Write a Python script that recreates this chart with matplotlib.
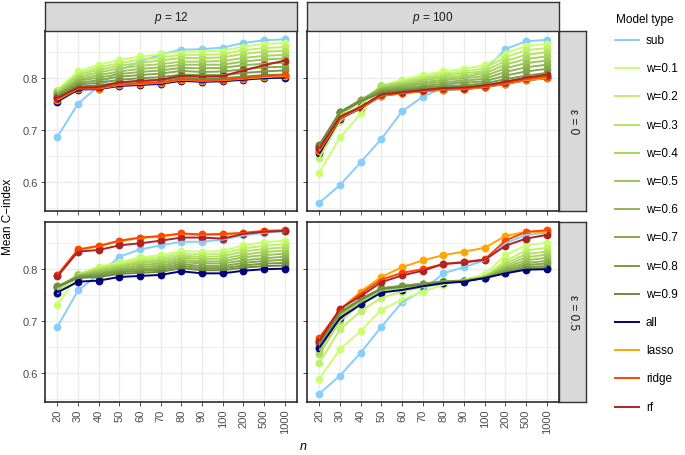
import matplotlib
matplotlib.use("Agg")
import matplotlib.pyplot as plt
from matplotlib.lines import Line2D

plt.rcParams['font.family'] = ['Liberation Sans', 'DejaVu Sans']
plt.rcParams['mathtext.fontset'] = 'custom'
plt.rcParams['mathtext.rm'] = 'Liberation Sans'
plt.rcParams['mathtext.it'] = 'Liberation Sans:italic'

# ---------------- data ----------------
n_labels = ["20", "30", "40", "50", "60", "70", "80", "90", "100", "200", "500", "1000"]
models = ["sub", "w=0.1", "w=0.2", "w=0.3", "w=0.4", "w=0.5", "w=0.6", "w=0.7",
          "w=0.8", "w=0.9", "all", "lasso", "ridge", "rf"]
p_labels = ["12", "100"]
eps_labels = ["0", "0.5"]

# p = 12, eps = 0
p12_e0 = {
    "sub":   [0.687, 0.751, 0.785, 0.815, 0.832, 0.846, 0.855, 0.856, 0.859, 0.868, 0.873, 0.875],
    "w=0.1": [0.778, 0.813, 0.826, 0.835, 0.842, 0.846, 0.851, 0.852, 0.853, 0.861, 0.866, 0.868],
    "w=0.2": [0.776, 0.809, 0.821, 0.829, 0.836, 0.840, 0.845, 0.845, 0.846, 0.854, 0.858, 0.860],
    "w=0.3": [0.775, 0.806, 0.816, 0.824, 0.830, 0.834, 0.839, 0.839, 0.840, 0.847, 0.851, 0.853],
    "w=0.4": [0.773, 0.802, 0.811, 0.819, 0.824, 0.827, 0.832, 0.832, 0.833, 0.839, 0.843, 0.845],
    "w=0.5": [0.771, 0.798, 0.806, 0.813, 0.818, 0.821, 0.826, 0.826, 0.826, 0.832, 0.836, 0.838],
    "w=0.6": [0.769, 0.795, 0.801, 0.808, 0.812, 0.815, 0.820, 0.819, 0.820, 0.825, 0.828, 0.830],
    "w=0.7": [0.768, 0.791, 0.796, 0.803, 0.806, 0.809, 0.814, 0.812, 0.813, 0.817, 0.821, 0.822],
    "w=0.8": [0.766, 0.788, 0.791, 0.797, 0.800, 0.802, 0.807, 0.806, 0.806, 0.810, 0.813, 0.815],
    "w=0.9": [0.764, 0.784, 0.786, 0.792, 0.794, 0.796, 0.801, 0.799, 0.800, 0.803, 0.806, 0.807],
    "all":   [0.755, 0.778, 0.779, 0.785, 0.787, 0.789, 0.795, 0.793, 0.794, 0.797, 0.800, 0.801],
    "lasso": [0.758, 0.780, 0.780, 0.787, 0.789, 0.791, 0.797, 0.795, 0.796, 0.799, 0.802, 0.804],
    "ridge": [0.760, 0.781, 0.781, 0.788, 0.790, 0.792, 0.798, 0.796, 0.797, 0.800, 0.804, 0.806],
    "rf":    [0.762, 0.782, 0.783, 0.792, 0.795, 0.797, 0.805, 0.803, 0.804, 0.815, 0.825, 0.834],
}

# p = 100, eps = 0
p100_e0 = {
    "sub":   [0.560, 0.594, 0.638, 0.683, 0.736, 0.764, 0.782, 0.800, 0.815, 0.856, 0.871, 0.874],
    "w=0.1": [0.618, 0.686, 0.732, 0.785, 0.797, 0.806, 0.813, 0.818, 0.825, 0.848, 0.862, 0.866],
    "w=0.2": [0.646, 0.718, 0.748, 0.786, 0.794, 0.802, 0.809, 0.813, 0.819, 0.840, 0.854, 0.858],
    "w=0.3": [0.658, 0.728, 0.755, 0.785, 0.792, 0.799, 0.805, 0.809, 0.814, 0.833, 0.845, 0.850],
    "w=0.4": [0.663, 0.731, 0.757, 0.783, 0.789, 0.796, 0.801, 0.804, 0.809, 0.826, 0.837, 0.842],
    "w=0.5": [0.666, 0.733, 0.758, 0.781, 0.787, 0.792, 0.797, 0.800, 0.804, 0.819, 0.829, 0.834],
    "w=0.6": [0.668, 0.734, 0.758, 0.779, 0.784, 0.789, 0.793, 0.795, 0.799, 0.812, 0.821, 0.826],
    "w=0.7": [0.670, 0.735, 0.758, 0.777, 0.781, 0.785, 0.789, 0.791, 0.794, 0.805, 0.813, 0.818],
    "w=0.8": [0.671, 0.735, 0.757, 0.775, 0.778, 0.782, 0.785, 0.786, 0.790, 0.798, 0.805, 0.810],
    "w=0.9": [0.672, 0.734, 0.755, 0.772, 0.776, 0.779, 0.782, 0.783, 0.786, 0.793, 0.800, 0.804],
    "all":   [0.655, 0.722, 0.742, 0.766, 0.771, 0.775, 0.778, 0.779, 0.783, 0.789, 0.796, 0.800],
    "lasso": [0.660, 0.723, 0.743, 0.766, 0.771, 0.775, 0.778, 0.779, 0.783, 0.789, 0.796, 0.800],
    "ridge": [0.662, 0.724, 0.744, 0.767, 0.772, 0.776, 0.779, 0.780, 0.784, 0.790, 0.798, 0.803],
    "rf":    [0.665, 0.726, 0.745, 0.769, 0.773, 0.777, 0.781, 0.782, 0.786, 0.793, 0.801, 0.807],
}

# p = 12, eps = 0.5
p12_e05 = {
    "sub":   [0.689, 0.759, 0.790, 0.824, 0.838, 0.846, 0.853, 0.853, 0.857, 0.865, 0.870, 0.873],
    "w=0.1": [0.731, 0.790, 0.805, 0.813, 0.823, 0.827, 0.835, 0.834, 0.835, 0.846, 0.852, 0.855],
    "w=0.2": [0.753, 0.790, 0.803, 0.810, 0.819, 0.823, 0.830, 0.829, 0.830, 0.840, 0.845, 0.848],
    "w=0.3": [0.760, 0.789, 0.801, 0.807, 0.815, 0.819, 0.826, 0.824, 0.825, 0.834, 0.839, 0.842],
    "w=0.4": [0.763, 0.789, 0.798, 0.805, 0.812, 0.815, 0.822, 0.820, 0.820, 0.828, 0.833, 0.836],
    "w=0.5": [0.765, 0.788, 0.796, 0.802, 0.808, 0.811, 0.818, 0.815, 0.815, 0.823, 0.827, 0.830],
    "w=0.6": [0.766, 0.787, 0.793, 0.799, 0.804, 0.807, 0.814, 0.811, 0.811, 0.817, 0.821, 0.824],
    "w=0.7": [0.767, 0.786, 0.791, 0.797, 0.800, 0.803, 0.810, 0.806, 0.806, 0.812, 0.816, 0.818],
    "w=0.8": [0.767, 0.785, 0.788, 0.794, 0.797, 0.799, 0.806, 0.802, 0.802, 0.807, 0.811, 0.812],
    "w=0.9": [0.766, 0.783, 0.785, 0.791, 0.793, 0.795, 0.802, 0.798, 0.798, 0.803, 0.806, 0.807],
    "all":   [0.755, 0.776, 0.778, 0.785, 0.787, 0.789, 0.796, 0.792, 0.792, 0.797, 0.800, 0.801],
    "lasso": [0.788, 0.837, 0.844, 0.854, 0.860, 0.863, 0.868, 0.866, 0.867, 0.869, 0.873, 0.874],
    "ridge": [0.789, 0.838, 0.845, 0.855, 0.861, 0.864, 0.869, 0.867, 0.868, 0.870, 0.874, 0.875],
    "rf":    [0.786, 0.834, 0.837, 0.846, 0.850, 0.855, 0.861, 0.861, 0.859, 0.868, 0.872, 0.874],
}

# p = 100, eps = 0.5
p100_e05 = {
    "sub":   [0.560, 0.595, 0.639, 0.689, 0.736, 0.759, 0.792, 0.804, 0.817, 0.850, 0.866, 0.870],
    "w=0.1": [0.589, 0.646, 0.681, 0.722, 0.741, 0.757, 0.770, 0.780, 0.790, 0.827, 0.846, 0.851],
    "w=0.2": [0.620, 0.684, 0.719, 0.745, 0.757, 0.765, 0.772, 0.778, 0.786, 0.816, 0.836, 0.841],
    "w=0.3": [0.636, 0.700, 0.733, 0.756, 0.763, 0.769, 0.774, 0.778, 0.785, 0.811, 0.829, 0.834],
    "w=0.4": [0.643, 0.708, 0.738, 0.760, 0.766, 0.771, 0.776, 0.778, 0.785, 0.807, 0.823, 0.828],
    "w=0.5": [0.648, 0.712, 0.741, 0.762, 0.767, 0.772, 0.776, 0.778, 0.784, 0.804, 0.817, 0.822],
    "w=0.6": [0.652, 0.715, 0.742, 0.763, 0.768, 0.772, 0.777, 0.778, 0.784, 0.801, 0.812, 0.816],
    "w=0.7": [0.655, 0.716, 0.742, 0.763, 0.768, 0.772, 0.776, 0.778, 0.784, 0.798, 0.808, 0.811],
    "w=0.8": [0.657, 0.717, 0.742, 0.763, 0.767, 0.771, 0.776, 0.777, 0.783, 0.795, 0.804, 0.806],
    "w=0.9": [0.659, 0.717, 0.741, 0.762, 0.766, 0.770, 0.775, 0.777, 0.783, 0.793, 0.801, 0.802],
    "all":   [0.649, 0.706, 0.732, 0.755, 0.760, 0.767, 0.773, 0.776, 0.783, 0.792, 0.799, 0.800],
    "lasso": [0.664, 0.722, 0.757, 0.785, 0.804, 0.817, 0.827, 0.834, 0.841, 0.864, 0.872, 0.872],
    "ridge": [0.668, 0.722, 0.753, 0.780, 0.793, 0.800, 0.810, 0.814, 0.819, 0.855, 0.872, 0.875],
    "rf":    [0.662, 0.724, 0.748, 0.775, 0.788, 0.797, 0.810, 0.813, 0.818, 0.845, 0.859, 0.866],
}

# ---------------- styles ----------------
colors = {
    "sub": "#87CEFA",
    "w=0.1": "#CAFF70", "w=0.2": "#BFF16A", "w=0.3": "#B3E263", "w=0.4": "#A8D45D",
    "w=0.5": "#9CC557", "w=0.6": "#91B750", "w=0.7": "#85A84A", "w=0.8": "#7A9A43",
    "w=0.9": "#6E8B3D",
    "all": "#000080", "lasso": "#FFA500", "ridge": "#FF4500", "rf": "#B22222",
}

W, H = 685, 456
fig = plt.figure(figsize=(W / 100, H / 100), dpi=100)


def px_axes(x0, y0, x1, y1, **kw):
    return fig.add_axes([x0 / W, 1 - y1 / H, (x1 - x0) / W, (y1 - y0) / H], **kw)


col_x = [(45, 297), (307, 559)]
row_y = [(32, 212), (223, 403)]
panels = [[p12_e0, p100_e0], [p12_e05, p100_e05]]

xs = list(range(len(n_labels)))
tick_col = "#4D4D4D"

for r in range(2):
    for c in range(2):
        data = panels[r][c]
        x0, x1 = col_x[c]
        y0, y1 = row_y[r]
        ax = px_axes(x0, y0, x1, y1)
        ax.set_facecolor("white")
        # points layer
        for i, m in enumerate(models):
            ax.plot(xs, data[m], linestyle="none", marker="o", markersize=5.6,
                    color=colors[m], markeredgewidth=0, zorder=3 + i * 0.01)
        # lines layer
        for i, m in enumerate(models):
            ax.plot(xs, data[m], linestyle="-", linewidth=1.4,
                    color=colors[m], zorder=4 + i * 0.01, solid_capstyle="butt")
        ax.set_xlim(-0.6, len(n_labels) - 0.4)
        ax.set_ylim(0.544, 0.891)
        ax.set_yticks([0.6, 0.7, 0.8])
        ax.set_yticks([0.55, 0.65, 0.75, 0.85], minor=True)
        ax.set_xticks(xs)
        ax.grid(True, which="major", color="#EBEBEB", linewidth=1.0, zorder=0)
        ax.grid(True, which="minor", axis="y", color="#EBEBEB", linewidth=0.5, zorder=0)
        ax.set_axisbelow(True)
        ax.tick_params(axis="both", which="major", length=2.8, width=0.6,
                       color="#333333", labelcolor=tick_col, labelsize=8, pad=2)
        ax.tick_params(axis="y", which="minor", length=0)
        if c == 0:
            ax.set_yticklabels(["0.6", "0.7", "0.8"])
        else:
            ax.set_yticklabels([])
        if r == 1:
            ax.set_xticklabels(n_labels, rotation=90, va="top", ha="center")
        else:
            ax.set_xticklabels([])
        for s in ax.spines.values():
            s.set_color("#1A1A1A")
            s.set_linewidth(1.1)
            s.set_zorder(10)

# top strips
for c in range(2):
    x0, x1 = col_x[c]
    sax = px_axes(x0, 3, x1, 32)
    sax.set_facecolor("#D9D9D9")
    sax.set_xticks([]); sax.set_yticks([])
    for s in sax.spines.values():
        s.set_color("#333333"); s.set_linewidth(1.0)
    sax.text(0.5, 0.5, r"$p$ = " + p_labels[c], transform=sax.transAxes,
             ha="center", va="center", fontsize=8.5, color="#1A1A1A")

# right strips
for r in range(2):
    y0, y1 = row_y[r]
    sax = px_axes(559, y0, 586, y1)
    sax.set_facecolor("#D9D9D9")
    sax.set_xticks([]); sax.set_yticks([])
    for s in sax.spines.values():
        s.set_color("#333333"); s.set_linewidth(1.0)
    sax.text(0.5, 0.5, "\u03b5 = " + eps_labels[r], transform=sax.transAxes,
             ha="center", va="center", rotation=270, fontsize=8.5, color="#1A1A1A")

# axis titles
fig.text(8 / W, 1 - 217 / H, "Mean C\u2212index", rotation=90, ha="center",
         va="center", fontsize=8.5, color="black")
fig.text(303 / W, 1 - 447 / H, r"$n$", ha="center", va="center",
         fontsize=9, color="black")

# legend
fig.text(616 / W, 1 - 20 / H, "Model type", ha="left", va="center",
         fontsize=8.5, color="black")
for i, m in enumerate(models):
    yy = 1 - (41 + i * 28.2) / H
    fig.add_artist(Line2D([615 / W, 639 / W], [yy, yy], color=colors[m],
                          linewidth=1.4, transform=fig.transFigure))
    fig.text(646 / W, yy, m, ha="left", va="center", fontsize=8.5, color="black")

fig.savefig("out.png", dpi=100, facecolor="white")
